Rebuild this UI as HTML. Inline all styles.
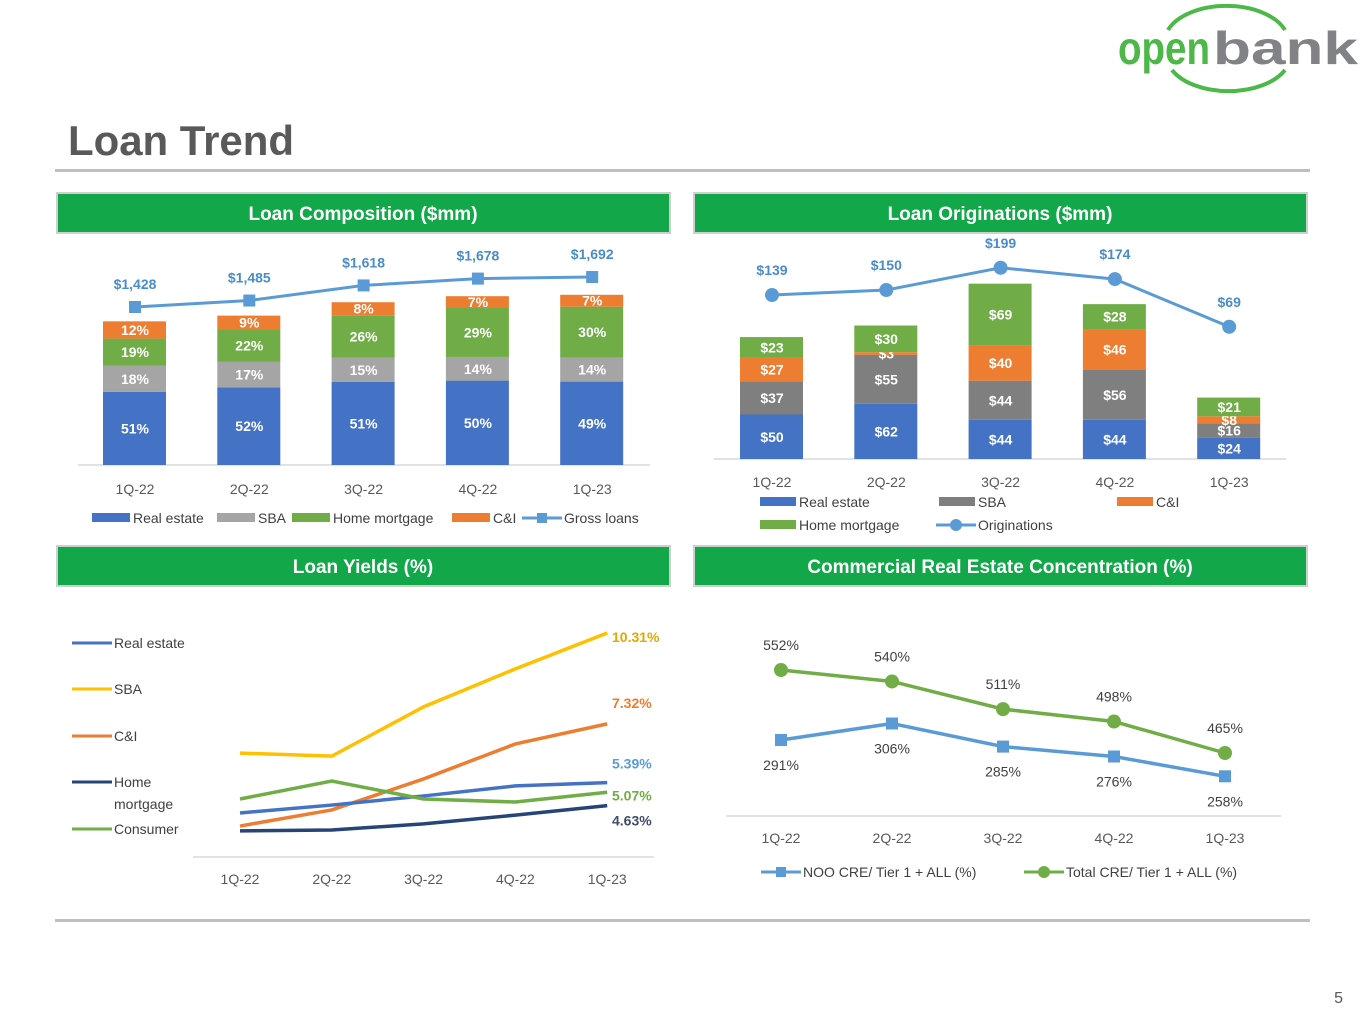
<!DOCTYPE html>
<html><head><meta charset="utf-8"><style>
body{margin:0;background:#fff;}
svg{display:block;font-family:"Liberation Sans",sans-serif;}
</style></head><body>
<svg id="s" width="1365" height="1024" viewBox="0 0 1365 1024">
<g>
<path d="M1168 30 A62 36 0 0 1 1285 30" fill="none" stroke="#4cb848" stroke-width="4"/>
<path d="M1172 70 A62 36 0 0 0 1285 70" fill="none" stroke="#4cb848" stroke-width="4"/>
<text x="1118" y="64" font-size="46" font-weight="bold" fill="#4cb848" textLength="92" lengthAdjust="spacingAndGlyphs">open</text>
<text x="1213" y="64" font-size="46" font-weight="bold" fill="#808285" textLength="145" lengthAdjust="spacingAndGlyphs">bank</text>
</g>
<text x="68" y="155" font-size="42" font-weight="bold" fill="#595959" textLength="226">Loan Trend</text>
<rect x="55" y="169" width="1255" height="3" fill="#bfbfbf"/>
<rect x="55" y="919" width="1255" height="3" fill="#bfbfbf"/>
<text x="1343" y="1003" font-size="16" fill="#595959" text-anchor="end">5</text>
<g id="hdr"></g>
<g id="c1"></g><g id="c2"></g><g id="c3"></g><g id="c4"></g>
</svg>
<script>
const quarters=["1Q-22","2Q-22","3Q-22","4Q-22","1Q-23"];
const grossLoans=[1428,1485,1618,1678,1692];
const compRE=[51,52,51,50,49];
const compSBA=[18,17,15,14,14];
const compHM=[19,22,26,29,30];
const compCI=[12,9,8,7,7];
const origRE=[50,62,44,44,24];
const origSBA=[37,55,44,56,16];
const origCI=[27,3,40,46,8];
const origHM=[23,30,69,28,21];
const originations=[139,150,199,174,69];
const yieldRE=[4.39,4.65,4.95,5.28,5.39];
const yieldSBA=[6.36,6.26,7.88,9.13,10.31];
const yieldCI=[3.96,4.49,5.51,6.66,7.32];
const yieldHM=[3.80,3.83,4.03,4.32,4.63];
const yieldCons=[4.85,5.44,4.85,4.75,5.07];
const nooCRE=[291,306,285,276,258];
const totalCRE=[552,540,511,498,465];

const NS="http://www.w3.org/2000/svg";
function mk(p,t,a,txt){const e=document.createElementNS(NS,t);for(const k in a)e.setAttribute(k,a[k]);if(txt!==undefined)e.textContent=txt;p.appendChild(e);return e;}
const BLUE="#4472C4",LG="#A5A5A5",DG="#7F7F7F",GR="#70AD47",OR="#ED7D31",LB="#5B9BD5",YE="#FFC000",NV="#264478";

const hdr=document.getElementById('hdr');
[[57,193,"Loan Composition ($mm)"],[694,193,"Loan Originations ($mm)"],[57,546,"Loan Yields (%)"],[694,546,"Commercial Real Estate Concentration (%)"]].forEach(h=>{
 const r=mk(hdr,'rect',{x:h[0],y:h[1],width:613,height:40,fill:"#12a84a",stroke:"#cfcfcf","stroke-width":2});
 
 
 const t=mk(hdr,'text',{x:h[0]+306,y:h[1]+27,"font-size":19,"font-weight":"bold",fill:"#fff","text-anchor":"middle"},h[2]);
 
 
});

function legendRect(g,x,y,c,label,w){mk(g,'rect',{x:x,y:y-5,width:w||38,height:9,fill:c});mk(g,'text',{x:x+(w||38)+3,y:y+5,"font-size":14,fill:"#404040"},label);}
function legendLine(g,x,y,c,label,marker){mk(g,'line',{x1:x,y1:y,x2:x+40,y2:y,stroke:c,"stroke-width":3});
 if(marker==='sq')mk(g,'rect',{x:x+15,y:y-5,width:10,height:10,fill:c});
 if(marker==='ci')mk(g,'circle',{cx:x+20,cy:y,r:6,fill:c});
 mk(g,'text',{x:x+42,y:y+5,"font-size":14,fill:"#404040"},label);}

(function(){
 const g=document.getElementById('c1');
 const xs=i=>135+i*114.3, base=465, yb=v=>base-v*0.1006, yl=v=>307-(v-1428)*0.1136;
 mk(g,'line',{x1:78,y1:base,x2:650,y2:base,stroke:"#d9d9d9","stroke-width":1.5});
 const series=[[compRE,BLUE,'bar-real-estate'],[compSBA,LG,'bar-sba'],[compHM,GR,'bar-home-mortgage'],[compCI,OR,'bar-ci']];
 quarters.forEach((q,i)=>{
  let cum=0;const tot=grossLoans[i];
  series.forEach(s=>{
   const v=s[0][i]/100*tot;const y0=yb(cum),y1=yb(cum+v);
   const r=mk(g,'rect',{x:xs(i)-32,y:y1,width:63,height:y0-y1,fill:s[1]});
   
   
   mk(g,'text',{x:xs(i),y:(y0+y1)/2+5,"font-size":14,"font-weight":"bold",fill:"#fff","text-anchor":"middle"},s[0][i]+"%");
   cum+=v;});
  mk(g,'text',{x:xs(i),y:494,"font-size":14,fill:"#595959","text-anchor":"middle"},q);
 });
 const pts=grossLoans.map((v,i)=>xs(i)+","+yl(v)).join(" ");
 const pl=mk(g,'polyline',{points:pts,fill:"none",stroke:LB,"stroke-width":3});
 
 
 grossLoans.forEach((v,i)=>{mk(g,'rect',{x:xs(i)-6,y:yl(v)-6,width:12,height:12,fill:LB});
  mk(g,'text',{x:xs(i),y:yl(v)-18,"font-size":14,"font-weight":"bold",fill:"#4a8cc9","text-anchor":"middle"},"$"+v.toLocaleString('en-US'));});
 const lg=mk(g,'g',{});
 legendRect(lg,92,518,BLUE,"Real estate");legendRect(lg,217,518,LG,"SBA");legendRect(lg,292,518,GR,"Home mortgage");legendRect(lg,452,518,OR,"C&I");legendLine(lg,522,518,LB,"Gross loans",'sq');
})();

(function(){
 const g=document.getElementById('c2');
 const xs=i=>772+i*114.3, base=459, yb=v=>base-v*0.89, yl=v=>295-(v-139)*0.454;
 mk(g,'line',{x1:714,y1:base,x2:1286,y2:base,stroke:"#d9d9d9","stroke-width":1.5});
 const series=[[origRE,BLUE,'bar-real-estate'],[origSBA,DG,'bar-sba'],[origCI,OR,'bar-ci'],[origHM,GR,'bar-home-mortgage']];
 quarters.forEach((q,i)=>{
  let cum=0;
  series.forEach(s=>{const v=s[0][i];const y0=yb(cum),y1=yb(cum+v);
   const r=mk(g,'rect',{x:xs(i)-32,y:y1,width:63,height:y0-y1,fill:s[1]});
   
   
   mk(g,'text',{x:xs(i),y:(y0+y1)/2+5,"font-size":14,"font-weight":"bold",fill:"#fff","text-anchor":"middle"},"$"+v);
   cum+=v;});
  mk(g,'text',{x:xs(i),y:487,"font-size":14,fill:"#595959","text-anchor":"middle"},q);
 });
 const pl=mk(g,'polyline',{points:originations.map((v,i)=>xs(i)+","+yl(v)).join(" "),fill:"none",stroke:LB,"stroke-width":3});
 
 
 originations.forEach((v,i)=>{mk(g,'circle',{cx:xs(i),cy:yl(v),r:7,fill:LB});
  mk(g,'text',{x:xs(i),y:yl(v)-20,"font-size":14,"font-weight":"bold",fill:"#4a8cc9","text-anchor":"middle"},"$"+v);});
 const lg=mk(g,'g',{});
 legendRect(lg,760,502,BLUE,"Real estate",36);legendRect(lg,939,502,DG,"SBA",36);legendRect(lg,1117,502,OR,"C&I",36);
 legendRect(lg,760,525,GR,"Home mortgage",36);legendLine(lg,936,525,LB,"Originations",'ci');
})();

(function(){
 const g=document.getElementById('c3');
 const xs=i=>240+i*91.8, yv=v=>633+(10.31-v)*30.4;
 mk(g,'line',{x1:193,y1:857,x2:654,y2:857,stroke:"#d9d9d9","stroke-width":1.5});
 quarters.forEach((q,i)=>mk(g,'text',{x:xs(i),y:884,"font-size":14,fill:"#595959","text-anchor":"middle"},q));
 const S=[[yieldSBA,YE,'sba-yield-line',"#e0a800",9],[yieldCI,OR,'ci-yield-line',OR,-16],[yieldRE,"#4472C4",'real-estate-yield-line',"#5b9bd5",-14],[yieldCons,GR,'consumer-yield-line',GR,8],[yieldHM,NV,'home-mortgage-yield-line',"#404d6a",20]];
 S.forEach(s=>{const pl=mk(g,'polyline',{points:s[0].map((v,i)=>xs(i)+","+yv(v)).join(" "),fill:"none",stroke:s[1],"stroke-width":3.5});
  
  
  const v=s[0][4];mk(g,'text',{x:612,y:yv(v)+s[4],"font-size":14,"font-weight":"bold",fill:s[3]},v.toFixed(2)+"%");});
 const lg=mk(g,'g',{});
 [["Real estate","#4472C4",643],["SBA",YE,689],["C&I",OR,736],["Home",NV,782],["Consumer",GR,829]].forEach(l=>legendLine(lg,72,l[2],l[1],l[0]));
 mk(lg,'text',{x:114,y:809,"font-size":14,fill:"#404040"},"mortgage");
})();

(function(){
 const g=document.getElementById('c4');
 const xs=i=>781+i*111, yt=v=>670+(552-v)*0.954, yn=v=>740+(291-v)*1.1;
 mk(g,'line',{x1:726,y1:816,x2:1281,y2:816,stroke:"#d9d9d9","stroke-width":1.5});
 quarters.forEach((q,i)=>mk(g,'text',{x:xs(i),y:843,"font-size":14,fill:"#595959","text-anchor":"middle"},q));
 const p1=mk(g,'polyline',{points:totalCRE.map((v,i)=>xs(i)+","+yt(v)).join(" "),fill:"none",stroke:GR,"stroke-width":3.5});
 
 
 const p2=mk(g,'polyline',{points:nooCRE.map((v,i)=>xs(i)+","+yn(v)).join(" "),fill:"none",stroke:LB,"stroke-width":3.5});
 
 
 totalCRE.forEach((v,i)=>{mk(g,'circle',{cx:xs(i),cy:yt(v),r:7,fill:GR});mk(g,'text',{x:xs(i),y:yt(v)-20,"font-size":14,fill:"#404040","text-anchor":"middle"},v+"%");});
 nooCRE.forEach((v,i)=>{mk(g,'rect',{x:xs(i)-6,y:yn(v)-6,width:12,height:12,fill:LB});mk(g,'text',{x:xs(i),y:yn(v)+30,"font-size":14,fill:"#404040","text-anchor":"middle"},v+"%");});
 const lg=mk(g,'g',{});
 legendLine(lg,761,872,LB,"NOO CRE/ Tier 1 + ALL (%)",'sq');legendLine(lg,1024,872,GR,"Total CRE/ Tier 1 + ALL (%)",'ci');
})();
</script>
</body></html>
